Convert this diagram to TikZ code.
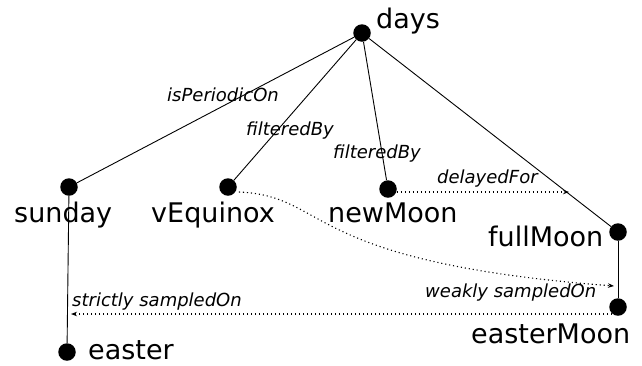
\documentclass[tikz,border=0pt]{standalone}
\usepackage{fontspec}
\setmainfont{DejaVu Sans}
\usetikzlibrary{arrows.meta}
\tikzset{
  dot/.style={circle,fill=black,inner sep=0pt,minimum size=17.5pt},
  nlabel/.style={inner sep=0pt,anchor=base west,font=\fontsize{27}{27}\selectfont},
  elabel/.style={inner sep=0pt,anchor=base west,font=\fontsize{18}{18}\selectfont\itshape},
  solidedge/.style={line width=0.9pt},
  dotedge/.style={line width=1.1pt,dash pattern=on 1.1pt off 2.9pt,-{Stealth[length=6pt,width=4.5pt,sep=0pt]}}
}
\begin{document}
\begin{tikzpicture}[x=1pt,y=-1pt]
\useasboundingbox (0,0) rectangle (642,365);
% dots
\node[dot] (days) at (362,33) {};
\node[dot] (sunday) at (69,187) {};
\node[dot] (vEquinox) at (228,187) {};
\node[dot] (newMoon) at (388,189) {};
\node[dot] (fullMoon) at (618,232) {};
\node[dot] (easterMoon) at (618,307) {};
\node[dot] (easter) at (67,352) {};
% node labels
\node[nlabel] (daysL) at (376,28) {days};
\node[nlabel] (sundayL) at (14,222) {sunday};
\node[nlabel] (vEquinoxL) at (151,222) {vEquinox};
\node[nlabel] (newMoonL) at (328,222) {newMoon};
\node[nlabel] (fullMoonL) at (488,246) {fullMoon};
\node[nlabel] (easterMoonL) at (471,343) {easterMoon};
\node[nlabel] (easterL) at (88,359) {easter};
% solid edges
\draw[solidedge] (days) -- (sunday);
\draw[solidedge] (days) -- (vEquinox);
\draw[solidedge] (days) -- (newMoon);
\draw[solidedge] (days) -- (fullMoon);
\draw[solidedge] (sunday) -- (easter);
\draw[solidedge] (fullMoon) -- (easterMoon);
% free ends of dotted edges
\coordinate (delayEnd) at (569,192);
\coordinate (weakEnd) at (614,286);
\coordinate (strictEnd) at (71,314);
% dotted edges
\draw[dotedge] ([yshift=-3pt]newMoon.east) -- (delayEnd);
\draw[dotedge] ([xshift=2pt,yshift=-5pt]vEquinox.east) .. controls (330,196) and (300,262) .. (weakEnd);
\draw[dotedge] ([xshift=-6pt,yshift=-7pt]easterMoon.center) -- (strictEnd);
% edge labels
\node[elabel] (l1) at (167,101) {isPeriodicOn};
\node[elabel] (l2) at (246,135) {filteredBy};
\node[elabel] (l3) at (333,158) {filteredBy};
\node[elabel] (l4) at (437,183) {delayedFor};
\node[elabel] (l5) at (425,297) {weakly sampledOn};
\node[elabel] (l6) at (72,306) {strictly sampledOn};
\end{tikzpicture}
\end{document}
